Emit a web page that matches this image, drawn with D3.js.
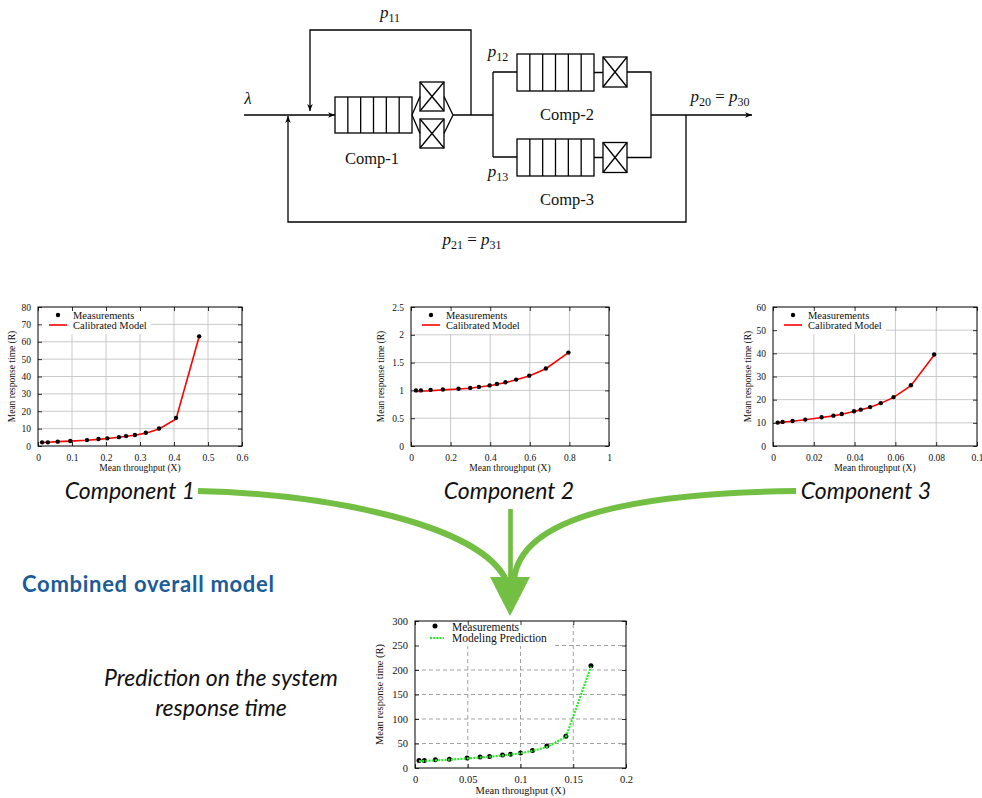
<!DOCTYPE html>
<html><head><meta charset="utf-8">
<script src="https://cdn.jsdelivr.net/npm/d3@7"></script>
<style>body{margin:0;background:#fff;}svg{display:block;}</style>
</head><body><svg id="c" width="982" height="798"></svg>
<script>
// ---------- DATA ----------
const c1X     = [0.012,0.029,0.058,0.095,0.144,0.178,0.204,0.238,0.259,0.285,0.317,0.356,0.406,0.474];
const c1Meas  = [2.1,2.1,2.5,2.9,3.4,4.0,4.4,5.1,5.7,6.3,7.6,10.1,16.2,63.1];
const c1Model = [2.0,2.2,2.5,2.8,3.3,3.8,4.3,5.0,5.6,6.2,7.4,9.8,15.6,63.0];
const c1XTicks = [0,0.1,0.2,0.3,0.4,0.5,0.6];
const c1XLabels = ["0","0.1","0.2","0.3","0.4","0.5","0.6"];
const c1YTicks = [0,10,20,30,40,50,60,70,80];
const c1YLabels = ["0","10","20","30","40","50","60","70","80"];

const c2X     = [0.025,0.05,0.099,0.161,0.24,0.299,0.343,0.397,0.434,0.477,0.531,0.597,0.681,0.795];
const c2Meas  = [1.0,1.0,1.01,1.015,1.03,1.045,1.063,1.09,1.116,1.146,1.194,1.265,1.395,1.68];
const c2Model = [0.98,0.985,0.995,1.01,1.025,1.04,1.06,1.085,1.11,1.14,1.19,1.26,1.39,1.68];
const c2XTicks = [0,0.2,0.4,0.6,0.8,1];
const c2XLabels = ["0","0.2","0.4","0.6","0.8","1"];
const c2YTicks = [0,0.5,1,1.5,2,2.5];
const c2YLabels = ["0","0.5","1","1.5","2","2.5"];

const c3X     = [0.0023,0.0047,0.0096,0.0158,0.0238,0.0296,0.0337,0.0397,0.043,0.0476,0.0528,0.0591,0.0676,0.079];
const c3Meas  = [10.1,10.4,10.8,11.4,12.4,13.1,13.8,15.0,15.7,16.8,18.5,21.1,26.2,39.5];
const c3Model = [10.0,10.3,10.7,11.3,12.3,13.0,13.7,14.9,15.6,16.7,18.4,21.0,26.0,39.3];
const c3XTicks = [0,0.02,0.04,0.06,0.08,0.1];
const c3XLabels = ["0","0.02","0.04","0.06","0.08","0.1"];
const c3YTicks = [0,10,20,30,40,50,60];
const c3YLabels = ["0","10","20","30","40","50","60"];

const c4X     = [0.0038,0.0089,0.0193,0.0326,0.0494,0.0617,0.0706,0.0829,0.0905,0.1,0.1114,0.125,0.143,0.1668];
const c4Meas  = [15.3,15.3,16.7,18.1,20.2,22.3,23.7,26.5,27.9,30.7,35.6,44.7,64.9,208.6];
const c4Pred  = [14.0,14.5,15.5,17.0,19.5,21.5,23.0,25.5,27.5,30.0,35.0,43.0,63.0,207.0];
const c4XTicks = [0,0.05,0.1,0.15,0.2];
const c4XLabels = ["0","0.05","0.1","0.15","0.2"];
const c4YTicks = [0,50,100,150,200,250,300];
const c4YLabels = ["0","50","100","150","200","250","300"];

const componentLabels = ["Component 1","Component 2","Component 3"];
const legendMeas = "Measurements";
const legendModel = "Calibrated Model";
const legendPred = "Modeling Prediction";
const xTitle = "Mean throughput (X)";
const yTitle = "Mean response time (R)";

// ---------- DRAW ----------
const svg = d3.select("#c");
const SERIF = "'Liberation Serif','Times New Roman',serif";
const HUM = "Lato,'Open Sans',sans-serif";

function chart(o) {
  const g = svg.append("g");
  const x = d3.scaleLinear().domain([o.xTicks[0], o.xTicks[o.xTicks.length-1]]).range([o.l, o.r]);
  const y = d3.scaleLinear().domain([o.yTicks[0], o.yTicks[o.yTicks.length-1]]).range([o.b, o.t]);
  const grid = g.append("g").attr("stroke", o.gridColor).attr("stroke-width", 0.8)
    .attr("stroke-dasharray", o.gridDash || null);
  grid.selectAll(".gx").data(o.xTicks.slice(1,-1)).join("line")
    .attr("x1", d=>x(d)).attr("x2", d=>x(d)).attr("y1", o.b).attr("y2", o.t);
  grid.selectAll(".gy").data(o.yTicks.slice(1,-1)).join("line")
    .attr("y1", d=>y(d)).attr("y2", d=>y(d)).attr("x1", o.l).attr("x2", o.r);
  g.append("rect").attr("x", o.l+1).attr("y", o.t+1).attr("width", o.legW).attr("height", o.legH).attr("fill", "#fff");
  const fmtX = d => o.xLabels[o.xTicks.indexOf(d)];
  const fmtY = d => o.yLabels[o.yTicks.indexOf(d)];
  const style = sel => { sel.select(".domain").remove(); sel.selectAll("text").attr("font-family", SERIF).attr("font-size", o.fs).attr("fill","#111"); sel.selectAll("line").attr("stroke","#000").attr("stroke-width",0.8); };
  g.append("g").attr("transform", `translate(0,${o.b})`).call(d3.axisBottom(x).tickValues(o.xTicks).tickFormat(fmtX).tickSizeInner(-4).tickSizeOuter(0).tickPadding(8)).call(style);
  g.append("g").attr("transform", `translate(${o.l},0)`).call(d3.axisLeft(y).tickValues(o.yTicks).tickFormat(fmtY).tickSizeInner(-4).tickSizeOuter(0).tickPadding(7)).call(style);
  g.append("g").attr("transform", `translate(0,${o.t})`).call(d3.axisTop(x).tickValues(o.xTicks).tickFormat("").tickSizeInner(-4).tickSizeOuter(0)).call(style);
  g.append("g").attr("transform", `translate(${o.r},0)`).call(d3.axisRight(y).tickValues(o.yTicks).tickFormat("").tickSizeInner(-4).tickSizeOuter(0)).call(style);
  g.append("rect").attr("x", o.l).attr("y", o.t).attr("width", o.r-o.l).attr("height", o.b-o.t)
    .attr("fill","none").attr("stroke","#000").attr("stroke-width",1);
  g.append("text").attr("x", (o.l+o.r)/2).attr("y", o.b+o.xtOff).attr("text-anchor","middle")
    .attr("font-family", SERIF).attr("font-size", o.fs).attr("fill","#111").text(xTitle);
  g.append("text").attr("transform", `translate(${o.ytX},${(o.t+o.b)/2}) rotate(-90)`).attr("text-anchor","middle")
    .attr("font-family", SERIF).attr("font-size", o.fs).attr("fill","#111").text(yTitle);
  const pts = o.xs.map((d,i)=>({x:d, m:o.meas[i], p:o.model[i]}));
  const line = d3.line().x(d=>x(d.x)).y(d=>y(d.p));
  const drawLine = () => g.append("path").datum(pts).attr("d", line).attr("fill","none")
      .attr("stroke", o.lineColor).attr("stroke-width", o.lineW).attr("stroke-dasharray", o.lineDash || null);
  const drawDots = () => g.append("g").selectAll("circle").data(pts).join("circle")
      .attr("cx", d=>x(d.x)).attr("cy", d=>y(d.m)).attr("r", o.dotR).attr("fill","#000");
  if (o.lineOnTop) { drawDots(); drawLine(); } else { drawLine(); drawDots(); }
  // legend
  g.append("circle").attr("cx", o.l+20).attr("cy", o.t+o.ly[0]).attr("r", o.dotR).attr("fill","#000");
  g.append("text").attr("x", o.l+o.legTx).attr("y", o.t+o.ly[1]).attr("font-family", SERIF).attr("font-size", o.lfs).attr("fill","#111").text(legendMeas);
  g.append("line").attr("x1", o.l+o.legL1).attr("x2", o.l+29).attr("y1", o.t+o.ly[2]).attr("y2", o.t+o.ly[2])
    .attr("stroke", o.lineColor).attr("stroke-width", o.lineW).attr("stroke-dasharray", o.lineDash || null);
  g.append("text").attr("x", o.l+o.legTx).attr("y", o.t+o.ly[3]).attr("font-family", SERIF).attr("font-size", o.lfs).attr("fill","#111").text(o.modelLabel);
}

const base = {gridColor:"#bdbdbd", fs:9.5, lfs:10.5, lineColor:"#ff0000", lineW:1.6, dotR:2.2, legW:112, legH:26, legTx:35, legL1:11, xtOff:25, ly:[8,11.5,18,22], modelLabel:legendModel};
chart({...base, l:38, r:242, t:307, b:446, ytX:15, xTicks:c1XTicks, xLabels:c1XLabels, yTicks:c1YTicks, yLabels:c1YLabels, xs:c1X, meas:c1Meas, model:c1Model});
chart({...base, l:411, r:609, t:307, b:446, ytX:384, xTicks:c2XTicks, xLabels:c2XLabels, yTicks:c2YTicks, yLabels:c2YLabels, xs:c2X, meas:c2Meas, model:c2Model});
chart({...base, l:773, r:977, t:307, b:446, ytX:751, xTicks:c3XTicks, xLabels:c3XLabels, yTicks:c3YTicks, yLabels:c3YLabels, xs:c3X, meas:c3Meas, model:c3Model});
chart({gridColor:"#8a8a8a", gridDash:"4,3", fs:10.5, lfs:11.5, lineColor:"#22ee22", lineW:2.2, lineDash:"2,1.2", dotR:2.5, lineOnTop:true,
  legW:136, legH:24, legTx:37, legL1:15, xtOff:26, ly:[5,10,17,21], modelLabel:legendPred,
  l:415, r:626, t:621, b:768, ytX:383, xTicks:c4XTicks, xLabels:c4XLabels, yTicks:c4YTicks, yLabels:c4YLabels, xs:c4X, meas:c4Meas, model:c4Pred});

// ---------- Queueing network diagram ----------
const defs = svg.append("defs");
defs.append("marker").attr("id","ah").attr("viewBox","0 0 10 10").attr("refX",10).attr("refY",5)
  .attr("markerWidth",7).attr("markerHeight",7).attr("markerUnits","userSpaceOnUse").attr("orient","auto")
  .append("path").attr("d","M0,1 L10,5 L0,9 L3,5 Z").attr("fill","#000");
const dg = svg.append("g").attr("stroke","#000").attr("stroke-width",1.3).attr("fill","none");
const P = d => dg.append("path").attr("d", d);
P("M471,115 V30 H310 V111").attr("marker-end","url(#ah)");
P("M244,115 H335").attr("marker-end","url(#ah)");
P("M686,115 V222 H288 V116").attr("marker-end","url(#ah)");
P("M651,115 H752").attr("marker-end","url(#ah)");
function queue(x, y, w, h) {
  dg.append("rect").attr("x",x).attr("y",y).attr("width",w).attr("height",h);
  for (let i=1;i<6;i++) P(`M${x+w*i/6},${y} V${y+h}`);
}
function server(x, y, w, h) {
  dg.append("rect").attr("x",x).attr("y",y).attr("width",w).attr("height",h);
  P(`M${x},${y} L${x+w},${y+h} M${x+w},${y} L${x},${y+h}`);
}
queue(335,97,77,36);
server(420,82,24,29); server(420,119,24,29);
P("M412,115 L420,96.5 M412,115 L420,133.5 M444,96.5 L453,115 M444,133.5 L453,115 M453,115 H493");
P("M493,72 V157 M493,72 H517 M493,157 H517");
queue(517,54,77,37); queue(517,139,77,37);
P("M594,72.5 H603 M594,157.5 H603");
server(603,57,24,30); server(603,142.5,24,30);
P("M627,72 H651 V157.5 H627");

function math(x, y, pieces, anchor) {
  const t = svg.append("text").attr("x",x).attr("y",y).attr("text-anchor",anchor||"start")
    .attr("font-family", SERIF).attr("font-size",17).attr("fill","#111");
  pieces.forEach(p => {
    const ts = t.append("tspan").text(p.t);
    if (p.it) ts.attr("font-style","italic");
    if (p.sub) ts.attr("font-size",12).attr("dy",3.5);
    if (p.up) ts.attr("dy",-3.5);
  });
}
math(390,18,[{t:"p",it:1},{t:"11",sub:1}],"middle");
math(498,57,[{t:"p",it:1},{t:"12",sub:1}],"middle");
math(498,177,[{t:"p",it:1},{t:"13",sub:1}],"middle");
math(248,104,[{t:"λ",it:1}],"middle");
math(720,102,[{t:"p",it:1},{t:"20",sub:1},{t:" = ",up:1},{t:"p",it:1},{t:"30",sub:1}],"middle");
math(472,245,[{t:"p",it:1},{t:"21",sub:1},{t:" = ",up:1},{t:"p",it:1},{t:"31",sub:1}],"middle");
const comp = (x,y,s) => svg.append("text").attr("x",x).attr("y",y).attr("text-anchor","middle")
  .attr("font-family",SERIF).attr("font-size",16.5).attr("fill","#111").text(s);
comp(372,164,"Comp-1"); comp(567,120,"Comp-2"); comp(567,205,"Comp-3");

// ---------- Green arrows ----------
const GREEN = "#72bf44";
svg.append("path").attr("d","M198,491 C330,494 480,525 506,580").attr("fill","none").attr("stroke",GREEN).attr("stroke-width",6);
svg.append("path").attr("d","M796,491 C640,493 520,515 514,580").attr("fill","none").attr("stroke",GREEN).attr("stroke-width",6);
svg.append("path").attr("d","M510.5,509 V580").attr("fill","none").attr("stroke",GREEN).attr("stroke-width",4.7);
svg.append("path").attr("d","M490,577 L530,577 L510,616 Z").attr("fill",GREEN);

// ---------- Captions ----------
const cap = (x,y,s,anchor) => svg.append("text").attr("x",x).attr("y",y).attr("text-anchor",anchor||"middle")
  .attr("font-family",HUM).attr("font-style","italic").attr("font-size",23).attr("fill","#111").text(s);
cap(130,499,componentLabels[0]); cap(509,499,componentLabels[1]); cap(866,499,componentLabels[2]);
cap(221,686,"Prediction on the system"); cap(221,716,"response time");
svg.append("text").attr("x",22).attr("y",592).attr("font-family",HUM).attr("font-weight","bold")
  .attr("font-size",22).attr("textLength",252).attr("lengthAdjust","spacing")
  .attr("fill","#1b5c98").text("Combined overall model");
</script></body></html>
